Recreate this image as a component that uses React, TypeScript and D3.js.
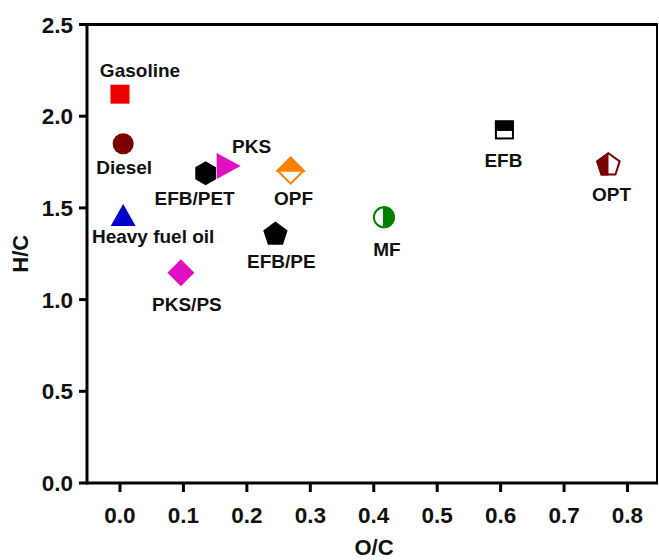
import React from "react";
import * as d3 from "d3";

const names = ["Gasoline", "Diesel", "Heavy fuel oil", "PKS/PS", "EFB/PET", "PKS", "OPF", "EFB/PE", "MF", "EFB", "OPT"];
const ocValues = [0.0, 0.005, 0.005, 0.096, 0.135, 0.165, 0.269, 0.245, 0.416, 0.606, 0.77];
const hcValues = [2.12, 1.85, 1.445, 1.147, 1.689, 1.728, 1.703, 1.361, 1.449, 1.925, 1.739];
const xTickValues = [0, 0.1, 0.2, 0.3, 0.4, 0.5, 0.6, 0.7, 0.8];
const yTickValues = [0, 0.5, 1.0, 1.5, 2.0, 2.5];

// marker styles (shape, colour)
const markerShapes = ["square", "circle", "triangleUp", "diamond", "hexagon", "triangleRight", "diamondTopHalf", "pentagon", "circleRightHalf", "squareTopHalf", "pentagonLeftHalf"];
const markerColors = ["#ee0000", "#7a0000", "#0000c8", "#e010c0", "#000000", "#e010c0", "#ff8000", "#000000", "#008000", "#000000", "#7a0000"];
// label offsets in px from marker centre
const labelDx = [20, 1, 30, 6, -11, 27, 3, 6, 3, -1, 3];
const labelDy = [-17, 30, 25, 38, 32, -13, 34, 35, 39, 37, 37];

const W = 659, H = 560;
const left = 87, right = 657, top = 24.5, bottom = 483;
const FONT = "'Liberation Sans', Arial, sans-serif";

function poly(pts: [number, number][]) {
  return "M" + pts.map((p) => p[0].toFixed(2) + "," + p[1].toFixed(2)).join("L") + "Z";
}
function regular(n: number, r: number, rot: number) {
  const pts: [number, number][] = [];
  for (let i = 0; i < n; i++) {
    const a = rot + (i * 2 * Math.PI) / n;
    pts.push([r * Math.sin(a), -r * Math.cos(a)]);
  }
  return pts;
}

function Marker({ shape, color, id }: { shape: string; color: string; id: string }) {
  switch (shape) {
    case "square":
      return <rect x={-9.5} y={-9.5} width={19} height={19} fill={color} />;
    case "circle":
      return <circle r={10.5} fill={color} />;
    case "triangleUp":
      return <path d={poly([[0, -14], [12.5, 8], [-12.5, 8]])} fill={color} />;
    case "diamond":
      return <path d={poly([[0, -13.5], [13.5, 0], [0, 13.5], [-13.5, 0]])} fill={color} />;
    case "hexagon":
      return <path d={poly(regular(6, 12, 0))} fill={color} />;
    case "triangleRight":
      return <path d={poly([[16, 0], [-8, -13], [-8, 13]])} fill={color} />;
    case "pentagon":
      return <path d={poly(regular(5, 12.8, 0))} fill={color} transform="translate(0,1)" />;
    case "diamondTopHalf": {
      const s = 13;
      return (
        <g>
          <path d={poly([[0, -s], [s, 0], [0, s], [-s, 0]])} fill="#fff" stroke={color} strokeWidth={2} />
          <path d={poly([[0, -s], [s, 0], [-s, 0]])} fill={color} stroke={color} strokeWidth={2} strokeLinejoin="miter" />
        </g>
      );
    }
    case "squareTopHalf":
      return (
        <g>
          <rect x={-8.5} y={-8.5} width={17} height={17} fill="#fff" stroke={color} strokeWidth={2} />
          <rect x={-8.5} y={-8.5} width={17} height={8.5} fill={color} stroke={color} strokeWidth={2} />
        </g>
      );
    case "circleRightHalf": {
      const r = 10;
      return (
        <g>
          <circle r={r} fill="#fff" stroke={color} strokeWidth={2} />
          <path d={`M0,${-r}A${r},${r} 0 0 1 0,${r}Z`} fill={color} stroke={color} strokeWidth={2} />
        </g>
      );
    }
    case "pentagonLeftHalf": {
      const pts = regular(5, 11.8, 0);
      return (
        <g transform="translate(0,1)">
          <defs>
            <clipPath id={id}>
              <rect x={-20} y={-20} width={20} height={40} />
            </clipPath>
          </defs>
          <path d={poly(pts)} fill="#fff" stroke={color} strokeWidth={2} strokeLinejoin="miter" />
          <path d={poly(pts)} fill={color} stroke={color} strokeWidth={2} clipPath={`url(#${id})`} />
        </g>
      );
    }
    default:
      return null;
  }
}

export default function App() {
  const x = d3.scaleLinear().domain([-0.052, 0.8465]).range([left, right]);
  const y = d3.scaleLinear().domain([0, 2.5]).range([bottom, top]);
  const fmt = d3.format(".1f");

  return (
    <svg width={W} height={H} style={{ position: "absolute", left: 0, top: 0, background: "#fff" }} fontFamily={FONT} fontWeight="bold">
      <rect x={0} y={0} width={W} height={H} fill="#fff" />
      {/* frame */}
      <line x1={left} x2={right + 1} y1={top} y2={top} stroke="#000" strokeWidth={3} />
      <line x1={right} x2={right} y1={top} y2={bottom} stroke="#000" strokeWidth={2} />
      {/* axes */}
      <line x1={left} x2={left} y1={top - 1.5} y2={bottom + 1.5} stroke="#000" strokeWidth={3} />
      <line x1={left} x2={right + 1} y1={bottom} y2={bottom} stroke="#000" strokeWidth={3} />
      {yTickValues.map((v) => (
        <g key={"y" + v}>
          <line x1={left - 8} x2={left} y1={y(v)} y2={y(v)} stroke="#000" strokeWidth={3} />
          <text x={left - 14} y={y(v)} dy="0.36em" textAnchor="end" fontSize={22.5} fill="#111">
            {fmt(v)}
          </text>
        </g>
      ))}
      {xTickValues.map((v) => (
        <g key={"x" + v}>
          <line x1={x(v)} x2={x(v)} y1={bottom} y2={bottom + 9} stroke="#000" strokeWidth={3} />
          <text x={x(v)} y={523} textAnchor="middle" fontSize={22.5} fill="#111">
            {fmt(v)}
          </text>
        </g>
      ))}
      <text x={(left + right) / 2 + 2} y={555} textAnchor="middle" fontSize={22} fill="#111">
        O/C
      </text>
      <text transform={`translate(28,${(top + bottom) / 2}) rotate(-90)`} textAnchor="middle" fontSize={22} fill="#111">
        H/C
      </text>
      {names.map((n, i) => {
        const cx = x(ocValues[i]);
        const cy = y(hcValues[i]);
        return (
          <g key={n}>
            <g transform={`translate(${cx},${cy})`}>
              <Marker shape={markerShapes[i]} color={markerColors[i]} id={"clip" + i} />
            </g>
            <text x={cx + labelDx[i]} y={cy + labelDy[i]} textAnchor="middle" fontSize={19} fill="#111">
              {n}
            </text>
          </g>
        );
      })}
    </svg>
  );
}
